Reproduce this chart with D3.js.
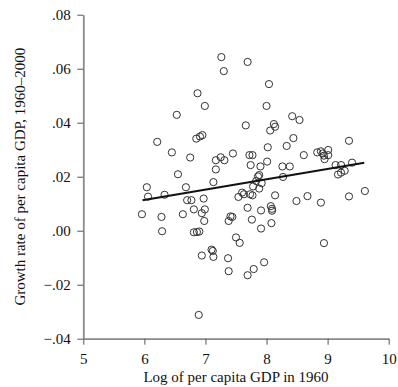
<!DOCTYPE html>
<html>
<head>
<meta charset="utf-8">
<script src="https://cdn.jsdelivr.net/npm/d3@7"></script>
<style>
  body { margin: 0; background: #fff; }
  text { font-family: "Liberation Serif", "Times New Roman", serif; }
</style>
</head>
<body>
<div id="chart"></div>
<script>
// Log of per capita GDP in 1960 (x) and growth rate 1960–2000 (y)
const logGdp60 = [
  7.26, 7.69, 7.30, 8.04, 6.87, 6.99, 8.00, 6.53, 8.42, 8.54,
  7.66, 8.12, 8.14, 8.06, 6.85, 6.91, 6.95, 8.44, 9.35, 6.21,
  8.02, 8.33, 6.45, 7.45, 7.72, 7.77, 8.61, 8.83, 8.89, 8.92,
  8.94, 9.01, 9.01, 8.95, 6.75, 7.17, 7.25, 7.31, 8.01, 7.74,
  7.90, 8.26, 8.38, 9.13, 9.22, 9.40, 7.17, 6.55, 7.86, 7.88,
  8.27, 9.17, 9.22, 9.28, 7.13, 7.83, 7.92, 7.78, 7.88, 6.04,
  6.68, 9.61, 7.60, 7.63, 7.54, 7.73, 7.77, 8.14, 6.06, 6.33,
  6.97, 6.70, 6.77, 8.49, 8.67, 9.35, 8.89, 6.81, 6.99, 6.94,
  7.69, 7.91, 8.07, 8.09, 8.09, 5.96, 6.28, 6.63, 6.98, 7.41,
  7.44, 7.38, 7.76, 8.08, 7.91, 6.29, 6.81, 6.86, 6.90, 7.50,
  7.56, 8.94, 7.10, 7.12, 7.13, 6.94, 7.37, 7.96, 7.79, 7.38,
  7.69, 6.89
];
const growth = [
  0.0643, 0.0625, 0.0591, 0.0543, 0.0509, 0.0462, 0.0462, 0.0429, 0.0424, 0.0410,
  0.0390, 0.0395, 0.0385, 0.0371, 0.0341, 0.0349, 0.0354, 0.0343, 0.0333, 0.0329,
  0.0309, 0.0314, 0.0290, 0.0286, 0.0280, 0.0280, 0.0280, 0.0290, 0.0294, 0.0286,
  0.0278, 0.0299, 0.0280, 0.0265, 0.0271, 0.0261, 0.0272, 0.0261, 0.0256, 0.0243,
  0.0238, 0.0238, 0.0238, 0.0243, 0.0243, 0.0252, 0.0227, 0.0209, 0.0201, 0.0206,
  0.0199, 0.0208, 0.0215, 0.0222, 0.0180, 0.0184, 0.0176, 0.0164, 0.0156, 0.0161,
  0.0161, 0.0147, 0.0141, 0.0135, 0.0125, 0.0135, 0.0131, 0.0131, 0.0126, 0.0133,
  0.0119, 0.0113, 0.0113, 0.0110, 0.0128, 0.0127, 0.0104, 0.0079, 0.0079, 0.0065,
  0.0085, 0.0075, 0.0091, 0.0081, 0.0074, 0.0061, 0.0051, 0.0061, 0.0036, 0.0053,
  0.0051, 0.0036, 0.0041, 0.0028, 0.0008, -0.0002, -0.0006, -0.0005, -0.0003, -0.0025,
  -0.0045, -0.0046, -0.0070, -0.0075, -0.0097, -0.0092, -0.0102, -0.0117, -0.0142, -0.0150,
  -0.0165, -0.0312
];

// fitted line endpoints
const fitX = [5.97, 9.6];
const fitY = [0.0113, 0.0252];

const xTicks = [5, 6, 7, 8, 9, 10];
const xTickLabels = ['5', '6', '7', '8', '9', '10'];
const yTicks = [0.08, 0.06, 0.04, 0.02, 0, -0.02, -0.04];
const yTickLabels = ['.08', '.06', '.04', '.02', '.00', '\u2212.02', '\u2212.04'];

const width = 398;
const height = 387;
const margin = { top: 14.7, right: 9.3, bottom: 48.3, left: 83.3 };

const svg = d3.select('#chart').append('svg')
  .attr('width', width)
  .attr('height', height);

svg.append('rect').attr('width', width).attr('height', height).attr('fill', '#fff');

const x = d3.scaleLinear().domain([5, 10]).range([margin.left, width - margin.right]);
const y = d3.scaleLinear().domain([-0.04, 0.08]).range([height - margin.bottom, margin.top]);

// axes
const xAxis = svg.append('g')
  .attr('transform', `translate(0,${height - margin.bottom})`)
  .call(d3.axisBottom(x)
    .tickValues(xTicks)
    .tickFormat((d, i) => xTickLabels[i])
    .tickSize(6)
    .tickSizeOuter(0)
    .tickPadding(8.4));

const yAxis = svg.append('g')
  .attr('transform', `translate(${margin.left},0)`)
  .call(d3.axisLeft(y)
    .tickValues(yTicks)
    .tickFormat((d, i) => yTickLabels[i])
    .tickSize(6)
    .tickSizeOuter(0)
    .tickPadding(6.6));

[xAxis, yAxis].forEach(g => {
  g.select('.domain').attr('stroke', '#8a8a8a').attr('stroke-width', 1.8);
  g.selectAll('.tick line').attr('stroke', '#555').attr('stroke-width', 1);
  g.selectAll('.tick text')
    .attr('fill', '#111')
    .style('font-family', '"Liberation Serif", serif')
    .style('font-size', '15px');
});

// points
svg.append('g')
  .selectAll('circle')
  .data(logGdp60.map((v, i) => [v, growth[i]]))
  .enter()
  .append('circle')
  .attr('cx', d => x(d[0]))
  .attr('cy', d => y(d[1]))
  .attr('r', 3.6)
  .attr('fill', 'none')
  .attr('stroke', '#333')
  .attr('stroke-width', 1);

// fit line
svg.append('path')
  .datum(fitX.map((v, i) => [v, fitY[i]]))
  .attr('d', d3.line().x(d => x(d[0])).y(d => y(d[1])))
  .attr('fill', 'none')
  .attr('stroke', '#111')
  .attr('stroke-width', 2);

// axis titles
svg.append('text')
  .attr('x', (x.range()[0] + x.range()[1]) / 2)
  .attr('y', 382)
  .attr('text-anchor', 'middle')
  .style('font-size', '15px')
  .attr('fill', '#111')
  .text('Log of per capita GDP in 1960');

svg.append('text')
  .attr('transform', `translate(25,${(y.range()[0] + y.range()[1]) / 2}) rotate(-90)`)
  .attr('text-anchor', 'middle')
  .style('font-size', '15px')
  .attr('fill', '#111')
  .text('Growth rate of per capita GDP, 1960\u20132000');
</script>
</body>
</html>
